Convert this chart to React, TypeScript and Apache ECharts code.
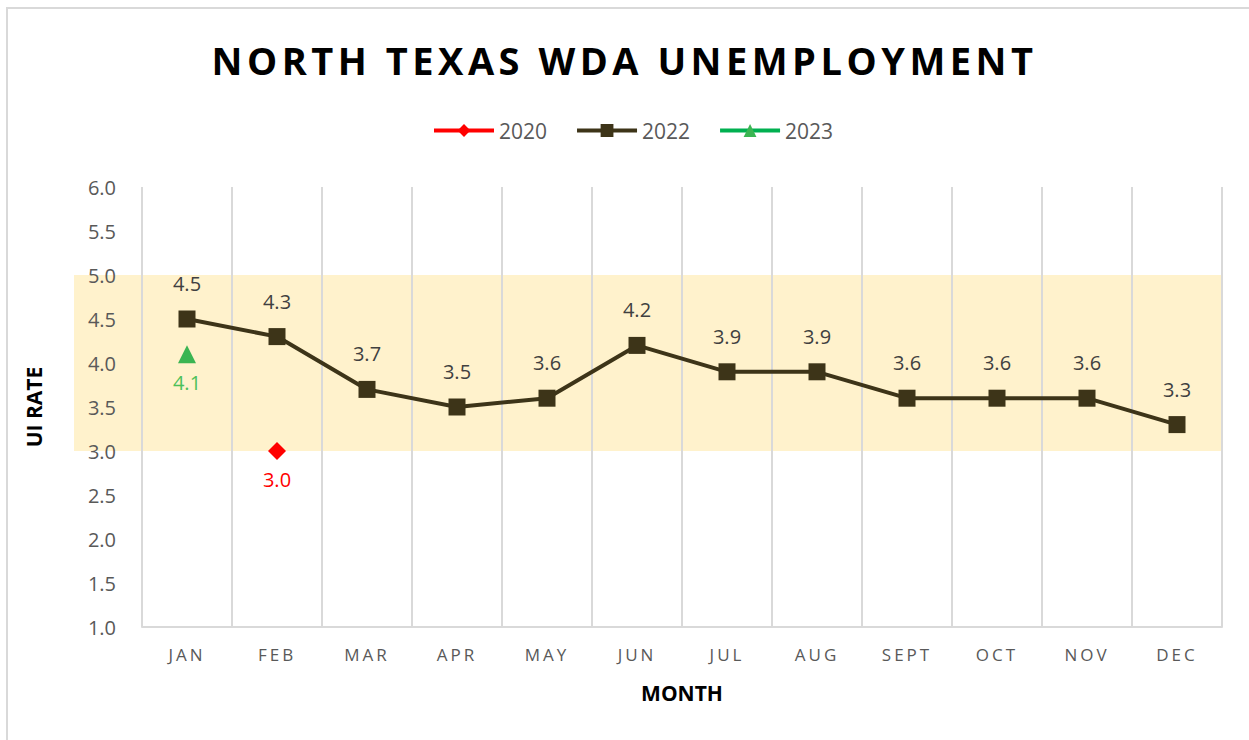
import React, { useEffect, useRef } from "react";
import * as echarts from "echarts";

const TITLE = "NORTH TEXAS WDA UNEMPLOYMENT";
const months = ["JAN", "FEB", "MAR", "APR", "MAY", "JUN", "JUL", "AUG", "SEPT", "OCT", "NOV", "DEC"];
const rate2020: (number | null)[] = [null, 3.0, null, null, null, null, null, null, null, null, null, null];
const rate2022: number[] = [4.5, 4.3, 3.7, 3.5, 3.6, 4.2, 3.9, 3.9, 3.6, 3.6, 3.6, 3.3];
const rate2023: (number | null)[] = [4.1, null, null, null, null, null, null, null, null, null, null, null];
const yMin = 1.0;
const yMax = 6.0;
const yStep = 0.5;
const bandLow = 3.0;
const bandHigh = 5.0;

const W = 1249;
const H = 740;
const GRID = { left: 142, right: 27, top: 187, bottom: 113 };
const FONT = "'Open Sans', sans-serif";

export default function App() {
  const ref = useRef<HTMLDivElement>(null);
  useEffect(() => {
    if (!ref.current) return;
    const chart = echarts.init(ref.current, null, { renderer: "svg" });
    const option: any = {
      animation: false,
      backgroundColor: "#ffffff",
      title: {
        text: TITLE,
        left: "center",
        top: 36,
        textStyle: { fontFamily: FONT, fontWeight: "bold", fontSize: 38, color: "#000000" },
      },
      legend: {
        top: 115,
        left: 427,
        itemWidth: 60,
        itemHeight: 16,
        itemGap: 28,
        lineStyle: { width: 4 },
        textStyle: { fontFamily: FONT, fontSize: 21, color: "#595959" },
        data: ["2020", "2022", "2023"],
      },
      grid: { ...GRID, containLabel: false },
      xAxis: {
        type: "category",
        data: months,
        boundaryGap: true,
        name: "MONTH",
        nameLocation: "middle",
        nameGap: 55,
        nameTextStyle: { fontFamily: FONT, fontWeight: "bold", fontSize: 21, color: "#000000" },
        axisLine: { show: true, lineStyle: { color: "#d9d9d9", width: 2 } },
        axisTick: { show: false },
        axisLabel: { margin: 19, fontFamily: FONT, fontSize: 17, color: "#595959", interval: 0 },
        splitLine: { show: true, interval: 0, lineStyle: { color: "#d9d9d9", width: 2 } },
      },
      yAxis: {
        type: "value",
        min: yMin,
        max: yMax,
        interval: yStep,
        name: "UI RATE",
        nameLocation: "middle",
        nameGap: 98,
        nameTextStyle: { fontFamily: FONT, fontWeight: "bold", fontSize: 21, color: "#000000" },
        axisLine: { show: false },
        axisTick: { show: false },
        splitLine: { show: false },
        axisLabel: {
          margin: 26,
          fontFamily: FONT,
          fontSize: 20,
          color: "#595959",
          formatter: (v: number) => v.toFixed(1),
        },
      },
      series: [
        {
          name: "2020",
          type: "line",
          data: rate2020,
          symbol: "diamond",
          symbolSize: 18,
          connectNulls: false,
          itemStyle: { color: "#ff0000" },
          lineStyle: { color: "#ff0000", width: 4 },
          label: {
            show: true,
            position: "bottom",
            distance: 9,
            fontFamily: FONT,
            fontSize: 20,
            color: "#ff0000",
            formatter: (p: any) => Number(p.value).toFixed(1),
          },
          z: 3,
        },
        {
          name: "2022",
          type: "line",
          data: rate2022,
          symbol: "rect",
          symbolSize: 17,
          itemStyle: { color: "#3d3418" },
          lineStyle: { color: "#3d3418", width: 4 },
          label: {
            show: true,
            position: "top",
            distance: 17,
            fontFamily: FONT,
            fontSize: 20,
            color: "#404040",
            formatter: (p: any) => Number(p.value).toFixed(1),
          },
          z: 4,
        },
        {
          name: "2023",
          type: "line",
          data: rate2023,
          symbol: "triangle",
          symbolSize: 18,
          itemStyle: { color: "#3bb552" },
          lineStyle: { color: "#00b050", width: 4 },
          label: {
            show: true,
            position: "bottom",
            distance: 9,
            fontFamily: FONT,
            fontSize: 20,
            color: "#4cc05a",
            formatter: (p: any) => Number(p.value).toFixed(1),
          },
          z: 3,
        },
      ],
    };
    chart.setOption(option);

    const yTop = chart.convertToPixel({ yAxisIndex: 0 }, bandHigh) as number;
    const yBot = chart.convertToPixel({ yAxisIndex: 0 }, bandLow) as number;
    const xRight = W - GRID.right;
    chart.setOption({
      graphic: [
        {
          type: "rect",
          z: -1,
          silent: true,
          shape: { x: 74, y: yTop, width: xRight - 74, height: yBot - yTop },
          style: { fill: "#fff2cc" },
        },
        {
          type: "rect",
          z: -1,
          silent: true,
          shape: { x: 7, y: 8, width: W + 20, height: H + 20 },
          style: { fill: "none", stroke: "#d9d9d9", lineWidth: 2 },
        },
      ],
    });

    const root = ref.current;
    root.querySelectorAll("text").forEach((t) => {
      const s = t.textContent || "";
      if (s === TITLE) {
        (t as any).style.letterSpacing = "4.5px";
      } else if (months.includes(s)) {
        (t as any).style.letterSpacing = "3px";
      }
    });

    return () => chart.dispose();
  }, []);
  return <div ref={ref} style={{ position: "absolute", left: 0, top: 0, width: W, height: H }} />;
}
